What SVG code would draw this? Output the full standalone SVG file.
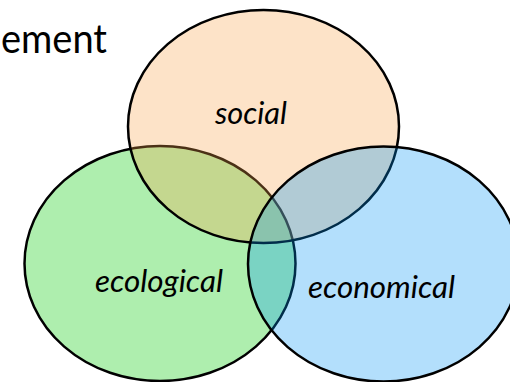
<svg xmlns="http://www.w3.org/2000/svg" width="510" height="382" viewBox="0 0 510 382">
  <style>
    .circle { stroke: #000; stroke-width: 2.5; }
    .label { font-family: Lato, "Open Sans", "Liberation Sans", sans-serif; font-style: italic; font-size: 31px; fill: #000; }
    .title { font-family: Lato, "Open Sans", "Liberation Sans", sans-serif; font-size: 40px; fill: #000; }
  </style>
  <rect width="510" height="382" fill="#fff"/>
  <text class="title" x="1" y="53" textLength="106" lengthAdjust="spacingAndGlyphs">ement</text>
  <g id="ecological">
    <ellipse class="circle" cx="160" cy="263.5" rx="135.5" ry="117.5" fill="#AEEEAE"/>
    <text class="label" x="95" y="292" textLength="128" lengthAdjust="spacingAndGlyphs">ecological</text>
  </g>
  <g id="social">
    <ellipse class="circle" cx="263.5" cy="126.5" rx="135.5" ry="116.5" fill="rgb(249,161,74)" fill-opacity="0.3"/>
    <text class="label" x="215" y="124" textLength="72" lengthAdjust="spacingAndGlyphs">social</text>
  </g>
  <g id="economical">
    <ellipse class="circle" cx="383.5" cy="264" rx="135.5" ry="117.5" fill="rgb(2,148,245)" fill-opacity="0.3"/>
    <text class="label" x="308" y="298" textLength="147" lengthAdjust="spacingAndGlyphs">economical</text>
  </g>
  <g id="connectors"/>
</svg>
